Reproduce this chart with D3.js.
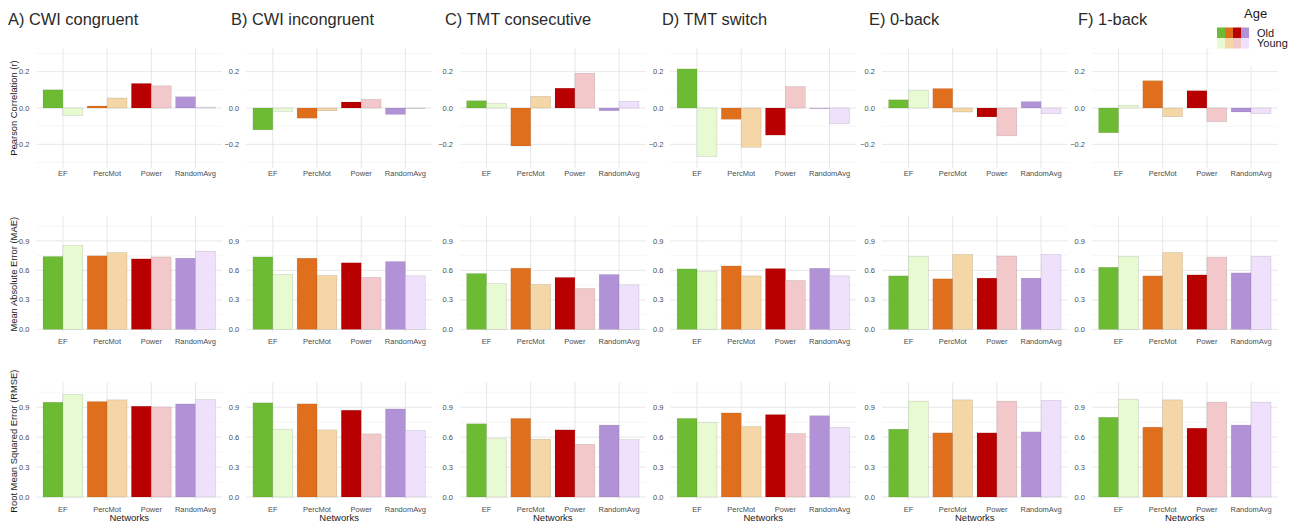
<!DOCTYPE html>
<html>
<head>
<meta charset="utf-8">
<script src="https://cdn.jsdelivr.net/npm/d3@7"></script>
<style>
  html, body { margin: 0; padding: 0; background: #fff; }
  svg { display: block; font-family: "Liberation Sans", Arial, Helvetica, sans-serif; }
</style>
</head>
<body>
<svg id="chart" width="1297" height="522"></svg>
<script>
// Categories
const networks = ["EF", "PercMot", "Power", "RandomAvg"];
const ages = ["Old", "Young"];
const tasks = ["A) CWI congruent", "B) CWI incongruent", "C) TMT consecutive", "D) TMT switch", "E) 0-back", "F) 1-back"];

// Pearson correlation (r), one inner array per task, in network order
const rOld   = [[0.100, 0.011, 0.135, 0.062], [-0.120, -0.056, 0.033, -0.035], [0.040, -0.209, 0.109, -0.015],
                [0.215, -0.062, -0.149, -0.003], [0.045, 0.107, -0.049, 0.035], [-0.136, 0.150, 0.095, -0.022]];
const rYoung = [[-0.042, 0.055, 0.122, 0.005], [-0.018, -0.015, 0.047, -0.004], [0.025, 0.064, 0.191, 0.036],
                [-0.267, -0.216, 0.118, -0.087], [0.096, -0.022, -0.153, -0.031], [0.015, -0.048, -0.075, -0.031]];

// Mean absolute error (MAE)
const maeOld   = [[0.741, 0.748, 0.717, 0.724], [0.737, 0.724, 0.677, 0.690], [0.568, 0.622, 0.528, 0.558],
                  [0.615, 0.645, 0.618, 0.621], [0.544, 0.514, 0.521, 0.521], [0.631, 0.544, 0.554, 0.574]];
const maeYoung = [[0.853, 0.781, 0.737, 0.795], [0.558, 0.548, 0.528, 0.545], [0.467, 0.457, 0.416, 0.453],
                  [0.588, 0.544, 0.497, 0.544], [0.742, 0.762, 0.746, 0.762], [0.742, 0.782, 0.735, 0.742]];

// Root mean squared error (RMSE)
const rmseOld   = [[0.950, 0.957, 0.910, 0.933], [0.944, 0.934, 0.870, 0.883], [0.734, 0.788, 0.673, 0.721],
                   [0.788, 0.843, 0.826, 0.815], [0.680, 0.643, 0.643, 0.653], [0.799, 0.700, 0.690, 0.721]];
const rmseYoung = [[1.030, 0.974, 0.903, 0.977], [0.680, 0.673, 0.633, 0.667], [0.585, 0.579, 0.528, 0.575],
                   [0.748, 0.707, 0.636, 0.697], [0.961, 0.974, 0.961, 0.968], [0.981, 0.974, 0.951, 0.951]];

// Axis ticks
const rTicks = [-0.2, 0.0, 0.2];
const rMinor = [-0.3, -0.1, 0.1, 0.3];
const errTicks = [0.0, 0.3, 0.6, 0.9];
const errMinor = [0.15, 0.45, 0.75, 1.05];

// Fill colours per network, by age group
const oldColors   = ["#6cbb33", "#df6f1d", "#b80000", "#b292d6"];
const youngColors = ["#e8fad2", "#f5d6a6", "#f2c8cb", "#efe1fb"];

// ---- layout ----
const svg = d3.select("#chart");
const panelW = 185.6;
const cols = [
  { left: 36.4,  titleX: 8 },
  { left: 246.3, titleX: 231 },
  { left: 460,   titleX: 445 },
  { left: 670.5, titleX: 662 },
  { left: 882,   titleX: 869 },
  { left: 1092,  titleX: 1078 }
];
const rows = [
  { top: 48,    bottom: 168,   domain: [-0.33, 0.33], ticks: rTicks,   minor: rMinor,   labelY: 176,
    old: rOld, young: rYoung, yTitle: "Pearson Correlation (r)" },
  { top: 216.3, bottom: 332.3, domain: [-0.03, 1.15], ticks: errTicks, minor: errMinor, labelY: 344,
    old: maeOld, young: maeYoung, yTitle: "Mean Absolute Error (MAE)" },
  { top: 382.3, bottom: 500,   domain: [-0.03, 1.15], ticks: errTicks, minor: errMinor, labelY: 512,
    old: rmseOld, young: rmseYoung, yTitle: "Root Mean Squared Error (RMSE)" }
];

const gMajor = "#e4e4e4", gMinor = "#f0f0f0";
const tickColor = "#4d4d4d";
const fmt = d3.format(".1f");

rows.forEach((row, ri) => {
  const y = d3.scaleLinear().domain(row.domain).range([row.bottom, row.top]);

  cols.forEach((col, ci) => {
    const x = d3.scaleBand().domain(networks).range([col.left, col.left + panelW])
      .paddingInner(0.1).paddingOuter(0.15);
    const xAge = d3.scaleBand().domain(ages).range([0, x.bandwidth()]);
    const g = svg.append("g");

    // minor horizontal grid
    g.selectAll(".minor").data(row.minor).join("line")
      .attr("x1", col.left).attr("x2", col.left + panelW)
      .attr("y1", d => y(d)).attr("y2", d => y(d))
      .attr("stroke", gMinor).attr("stroke-width", 0.6);
    // major horizontal grid
    g.selectAll(".major").data(row.ticks).join("line")
      .attr("x1", col.left).attr("x2", col.left + panelW)
      .attr("y1", d => y(d)).attr("y2", d => y(d))
      .attr("stroke", gMajor).attr("stroke-width", 0.9);
    // vertical grid at categories
    g.selectAll(".vgrid").data(networks).join("line")
      .attr("x1", d => x(d) + x.bandwidth() / 2).attr("x2", d => x(d) + x.bandwidth() / 2)
      .attr("y1", row.top).attr("y2", row.bottom)
      .attr("stroke", gMajor).attr("stroke-width", 0.9);

    // bars
    const bars = [];
    networks.forEach((n, ni) => {
      bars.push({ net: n, age: "Old",   v: row.old[ci][ni],   fill: oldColors[ni] });
      bars.push({ net: n, age: "Young", v: row.young[ci][ni], fill: youngColors[ni] });
    });
    g.selectAll(".bar").data(bars).join("rect")
      .attr("x", d => x(d.net) + xAge(d.age))
      .attr("width", xAge.bandwidth())
      .attr("y", d => y(Math.max(0, d.v)))
      .attr("height", d => Math.max(0.6, Math.abs(y(d.v) - y(0))))
      .attr("fill", d => d.fill)
      .attr("stroke", d => d.age === "Old" ? "rgba(0,0,0,0.12)" : "rgba(0,0,0,0.16)")
      .attr("stroke-width", 0.6);

    // y tick labels
    g.selectAll(".ytick").data(row.ticks).join("text")
      .attr("x", col.left - 7).attr("y", d => y(d)).attr("dy", "0.35em")
      .attr("text-anchor", "end").attr("font-size", 7.5).attr("fill", tickColor)
      .text(d => fmt(d));

    // x tick labels
    g.selectAll(".xtick").data(networks).join("text")
      .attr("x", d => x(d) + x.bandwidth() / 2).attr("y", row.labelY)
      .attr("text-anchor", "middle").attr("font-size", 7.5).attr("fill", tickColor)
      .text(d => d);

    // panel titles on the top row
    if (ri === 0) {
      g.append("text").attr("x", col.titleX).attr("y", 25)
        .attr("font-size", 16.4).attr("fill", "#2a2a2a").text(tasks[ci]);
    }
    // x-axis title on the bottom row
    if (ri === rows.length - 1) {
      g.append("text").attr("x", col.left + panelW / 2).attr("y", 521)
        .attr("text-anchor", "middle").attr("font-size", 9.5).attr("fill", "#1a1a1a").text("Networks");
    }
    // y-axis title on the first column
    if (ci === 0) {
      g.append("text")
        .attr("transform", `translate(16.5,${(row.top + row.bottom) / 2}) rotate(-90)`)
        .attr("text-anchor", "middle").attr("font-size", 9.4).attr("fill", "#1a1a1a")
        .text(row.yTitle);
    }
  });
});

// ---- legend ----
const lg = svg.append("g");
lg.append("rect").attr("x", 1211).attr("y", 0).attr("width", 86).attr("height", 66).attr("fill", "#fff");
lg.append("text").attr("x", 1244).attr("y", 18).attr("font-size", 13).attr("fill", "#1a1a1a").text("Age");
const sw = 8, sh = 10.5;
ages.forEach((a, ai) => {
  const palette = a === "Old" ? oldColors : youngColors;
  palette.forEach((c, k) => {
    lg.append("rect").attr("x", 1217 + k * sw).attr("y", 27.5 + ai * sh)
      .attr("width", sw).attr("height", sh).attr("fill", c);
  });
  lg.append("text").attr("x", 1257).attr("y", 36.5 + ai * sh)
    .attr("font-size", 11).attr("fill", "#1a1a1a").text(a);
});
</script>
</body>
</html>
